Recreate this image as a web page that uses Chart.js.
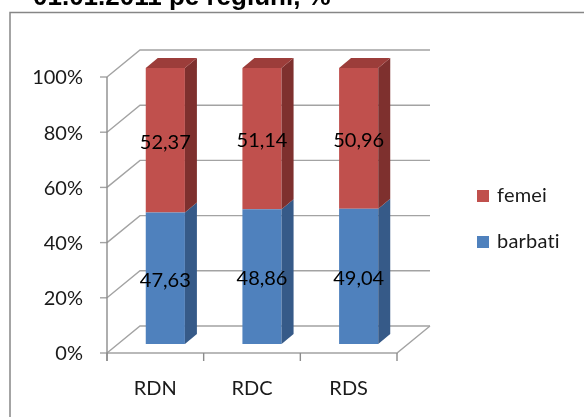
<!DOCTYPE html>
<html>
<head>
<meta charset="utf-8">
<script src="https://cdn.jsdelivr.net/npm/chart.js@4.4.0/dist/chart.umd.min.js"></script>
<style>
  html, body { margin: 0; padding: 0; background: #fff; }
  canvas { display: block; }
</style>
</head>
<body>
<canvas id="regionsChart" width="584" height="417"></canvas>
<script>
const regions = ['RDN', 'RDC', 'RDS'];
const barbati = [47.63, 48.86, 49.04];
const femei = [52.37, 51.14, 50.96];
const yTickStep = 20;
const titleText = '01.01.2011 pe regiuni, %';

const FONT = 'Lato, "Open Sans", sans-serif';

// offsets of the front edge / back wall / bar depth, relative to the bar plane
const FRONT = { dx: -10, dy: 9 };
const BACK = { dx: 23, dy: -18 };
const DEPTH = { dx: 12, dy: -10 };

const frame3d = {
  id: 'frame3d',
  beforeDraw(chart) {
    const ctx = chart.ctx;
    ctx.save();
    ctx.strokeStyle = '#868686';
    ctx.lineWidth = 1.5;
    ctx.strokeRect(10, 12.5, 640, 480);
    // title is cut by the top edge in the original
    ctx.fillStyle = '#000';
    ctx.font = 'bold 26px "Liberation Sans", Arial, sans-serif';
    ctx.textBaseline = 'alphabetic';
    ctx.fillText(titleText, 33, 5);
    ctx.restore();
  },
  beforeDatasetsDraw(chart) {
    const { ctx, chartArea: a, scales: { x, y } } = chart;
    const fl = a.left + FRONT.dx, fr = a.right + FRONT.dx;
    const bl = a.left + BACK.dx, br = a.right + BACK.dx;
    const p0 = y.getPixelForValue(0), p100 = y.getPixelForValue(100);
    ctx.save();
    ctx.strokeStyle = '#a3a3a3';
    ctx.lineWidth = 1.4;

    // side wall + back wall gridlines, with small ticks on the front edge
    y.ticks.forEach((t) => {
      const py = y.getPixelForValue(t.value);
      ctx.beginPath();
      ctx.moveTo(fl, py + FRONT.dy);
      ctx.lineTo(bl, py + BACK.dy);
      ctx.lineTo(br, py + BACK.dy);
      ctx.stroke();
      ctx.beginPath();
      ctx.moveTo(fl - 7, py + FRONT.dy);
      ctx.lineTo(fl, py + FRONT.dy);
      ctx.stroke();
    });

    // floor front and right edges
    ctx.beginPath();
    ctx.moveTo(fl, p0 + FRONT.dy);
    ctx.lineTo(fr, p0 + FRONT.dy);
    ctx.lineTo(br, p0 + BACK.dy);
    ctx.stroke();

    // vertical axis
    ctx.strokeStyle = '#8c8c8c';
    ctx.beginPath();
    ctx.moveTo(fl, p100 + FRONT.dy);
    ctx.lineTo(fl, p0 + FRONT.dy + 8);
    ctx.stroke();

    // category ticks on the floor front edge
    for (let i = 0; i <= regions.length; i++) {
      const px = x.getPixelForValue(i - 0.5) + FRONT.dx;
      ctx.beginPath();
      ctx.moveTo(px, p0 + FRONT.dy);
      ctx.lineTo(px, p0 + FRONT.dy + 8);
      ctx.stroke();
    }
    ctx.restore();
  },
  afterDatasetsDraw(chart) {
    const ctx = chart.ctx;
    const sets = chart.data.datasets;
    ctx.save();
    sets.forEach((ds, di) => {
      chart.getDatasetMeta(di).data.forEach((bar) => {
        const l = bar.x - bar.width / 2, r = bar.x + bar.width / 2;
        const top = bar.y, bottom = bar.base;
        ctx.fillStyle = ds.sideColor;
        ctx.beginPath();
        ctx.moveTo(r, bottom);
        ctx.lineTo(r + DEPTH.dx, bottom + DEPTH.dy);
        ctx.lineTo(r + DEPTH.dx, top + DEPTH.dy);
        ctx.lineTo(r, top);
        ctx.closePath();
        ctx.fill();
        if (di === sets.length - 1) {
          ctx.fillStyle = ds.topColor;
          ctx.beginPath();
          ctx.moveTo(l, top);
          ctx.lineTo(l + DEPTH.dx, top + DEPTH.dy);
          ctx.lineTo(r + DEPTH.dx, top + DEPTH.dy);
          ctx.lineTo(r, top);
          ctx.closePath();
          ctx.fill();
        }
      });
    });

    // value labels
    ctx.fillStyle = '#000';
    ctx.font = '20px ' + FONT;
    ctx.textAlign = 'center';
    ctx.textBaseline = 'middle';
    sets.forEach((ds, di) => {
      chart.getDatasetMeta(di).data.forEach((bar, i) => {
        const txt = ds.data[i].toFixed(2).replace('.', ',');
        ctx.fillText(txt, bar.x, (bar.y + bar.base) / 2 + 2);
      });
    });
    ctx.restore();
  },
  afterDraw(chart) {
    // legend, top item = last dataset
    const ctx = chart.ctx;
    const a = chart.chartArea;
    const sets = chart.data.datasets.slice().reverse();
    ctx.save();
    ctx.font = '20px ' + FONT;
    ctx.textBaseline = 'middle';
    ctx.textAlign = 'left';
    ctx.letterSpacing = '0.2px'; // avoids the "ti" ligature of Lato
    sets.forEach((ds, i) => {
      const cy = 196 + i * 46;
      ctx.fillStyle = ds.backgroundColor;
      ctx.fillRect(a.right + 70, cy - 6, 12, 12);
      ctx.fillStyle = '#1a1a1a';
      ctx.fillText(ds.label, a.right + 90, cy);
    });
    ctx.restore();
  },
};

new Chart(document.getElementById('regionsChart'), {
  type: 'bar',
  data: {
    labels: regions,
    datasets: [
      {
        label: 'barbati',
        data: barbati,
        backgroundColor: '#4f81bd',
        sideColor: '#365a88',
        topColor: '#4a76ab',
      },
      {
        label: 'femei',
        data: femei,
        backgroundColor: '#c0504d',
        sideColor: '#7e302e',
        topColor: '#9c3d3a',
      },
    ],
  },
  options: {
    responsive: false,
    animation: false,
    events: [],
    barPercentage: 0.405,
    categoryPercentage: 1,
    layout: { padding: { left: 0, right: 177, top: 68, bottom: 0 } },
    plugins: {
      legend: { display: false },
      tooltip: { enabled: false },
    },
    scales: {
      x: {
        stacked: true,
        grid: { display: false, drawTicks: false },
        border: { display: false },
        ticks: {
          padding: 33,
          labelOffset: -10,
          color: '#1a1a1a',
          font: { family: FONT, size: 20 },
        },
        afterFit(scale) { scale.height = 73; },
      },
      y: {
        stacked: true,
        min: 0,
        max: 100,
        grid: { display: false, drawTicks: false },
        border: { display: false },
        ticks: {
          stepSize: yTickStep,
          padding: 34,
          labelOffset: 10,
          color: '#1a1a1a',
          font: { family: FONT, size: 20 },
          callback: (v) => v + '%',
        },
        afterFit(scale) { scale.width = 117; },
      },
    },
  },
  plugins: [frame3d],
});
</script>
</body>
</html>
